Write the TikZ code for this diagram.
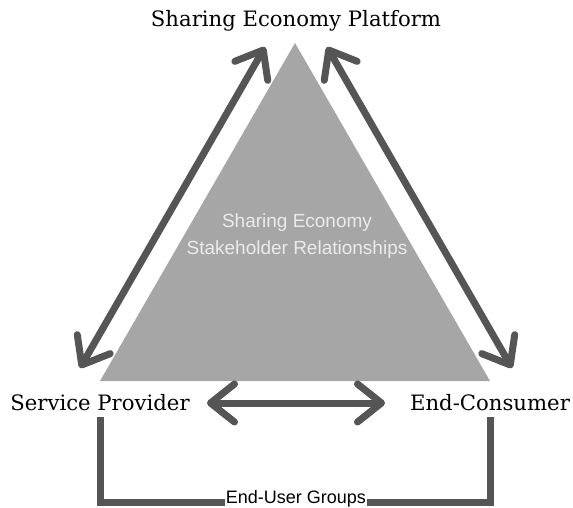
\documentclass[tikz,border=0pt]{standalone}
\usepackage{fontspec}
\setmainfont{DejaVu Serif}
\newfontfamily\innerfont{Liberation Sans}
\usetikzlibrary{arrows.meta}
\definecolor{arrowgray}{HTML}{555555}
\definecolor{trigray}{HTML}{A6A6A6}
\definecolor{innertext}{HTML}{EBEBEB}
\begin{document}
\begin{tikzpicture}[x=1pt,y=-1pt,
  biarrow/.style={draw=arrowgray,line width=7pt,line cap=round,
    {Straight Barb[length=24pt,width=38pt,round]}-{Straight Barb[length=24pt,width=38pt,round]}},
  bracket/.style={draw=arrowgray,line width=7pt},
  label/.style={font=\fontsize{21.2}{24}\selectfont,text=black,inner sep=0pt},
  innerlabel/.style={font=\innerfont\fontsize{19}{27}\selectfont,text=innertext,align=center}
]
\useasboundingbox (0,0) rectangle (573,508);
% triangle
\fill[trigray] (295,43) coordinate (apex) -- (490,381) coordinate (br) -- (100,381) coordinate (bl) -- cycle;
\node[innerlabel] (inner) at (297,236) {Sharing Economy\\Stakeholder Relationships};
% labels
\node[label] (platform) at (296,21) {Sharing Economy Platform};
\node[label] (provider) at (100,403) {Service Provider};
\node[label] (consumer) at (490,403) {End-Consumer};
% arrow endpoints
\coordinate (la) at (80,368);
\coordinate (lb) at (265,47);
\coordinate (ra) at (327,47);
\coordinate (rb) at (512,368);
\coordinate (ha) at (207,403);
\coordinate (hb) at (385,403);
\draw[biarrow] (la) -- (lb);
\draw[biarrow] (ra) -- (rb);
\draw[biarrow] (ha) -- (hb);
% bracket
\coordinate (pb) at (100,417);
\coordinate (cb) at (490,417);
\draw[bracket] (pb) -- (100,502) -- (490,502) -- (cb);
\node[fill=white,font=\innerfont\fontsize{18}{20}\selectfont,inner xsep=1pt,inner ysep=0pt] (groups) at (296,498.5) {End-User Groups};
\end{tikzpicture}
\end{document}
